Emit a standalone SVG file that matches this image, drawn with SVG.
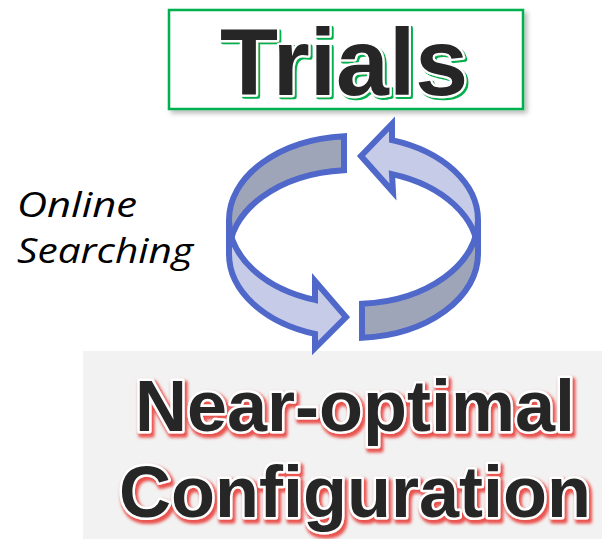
<svg xmlns="http://www.w3.org/2000/svg" width="602" height="539" viewBox="0 0 602 539">
  <defs>
    <filter id="boxShadow" x="-10%" y="-20%" width="125%" height="150%">
      <feDropShadow dx="3" dy="3" stdDeviation="2.5" flood-color="#000" flood-opacity="0.28"/>
    </filter>
    <!-- hard green offset copy behind the outlined title -->
    <filter id="greenEcho" x="-5%" y="-10%" width="115%" height="130%">
      <feOffset in="SourceAlpha" dx="2.3" dy="2.3" result="off"/>
      <feFlood flood-color="#00b050"/>
      <feComposite in2="off" operator="in" result="echo"/>
      <feMerge>
        <feMergeNode in="echo"/>
        <feMergeNode in="SourceGraphic"/>
      </feMerge>
    </filter>
    <!-- soft red shadow behind the outlined result text -->
    <filter id="redEcho" x="-5%" y="-15%" width="115%" height="140%">
      <feMorphology in="SourceAlpha" operator="dilate" radius="1" result="fat"/>
      <feOffset in="fat" dx="2" dy="3" result="off"/>
      <feGaussianBlur in="off" stdDeviation="1.8" result="blur"/>
      <feFlood flood-color="#e8413c" flood-opacity="0.9"/>
      <feComposite in2="blur" operator="in" result="echo"/>
      <feMerge>
        <feMergeNode in="echo"/>
        <feMergeNode in="SourceGraphic"/>
      </feMerge>
    </filter>
    <style>
      .ring { stroke: #4f68c9; stroke-width: 6; stroke-linejoin: miter; }
      .light { fill: #c6cbe7; }
      .dark { fill: #9ea5b8; }
      .bold { font-family: "Liberation Sans", Arial, sans-serif; font-weight: bold; text-anchor: middle; }
      .face { fill: #262626; stroke: #ffffff; paint-order: stroke; stroke-linejoin: round; }
      .label { font-family: "Open Sans", "Noto Sans", sans-serif; font-style: italic; font-size: 35px; fill: #000; }
    </style>
  </defs>

  <rect width="602" height="539" fill="#ffffff"/>

  <!-- result panel -->
  <g id="node-configuration">
    <rect x="83" y="351" width="519" height="188" fill="#f2f2f2"/>
    <g class="bold face" font-size="72" stroke-width="5" filter="url(#redEcho)">
      <text x="355" y="431">Near-optimal</text>
      <text x="355" y="517">Configuration</text>
    </g>
  </g>

  <!-- trials box -->
  <g id="node-trials">
    <rect x="169" y="10" width="354" height="99" fill="#ffffff" stroke="#00b050" stroke-width="2.5" filter="url(#boxShadow)"/>
    <text class="bold face" x="344" y="95" font-size="95" stroke-width="4.5" filter="url(#greenEcho)">Trials</text>
  </g>

  <!-- side label -->
  <g id="label-online-searching">
    <text class="label" x="17" y="217" textLength="120" lengthAdjust="spacingAndGlyphs">Online</text>
    <text class="label" x="17" y="263" textLength="176" lengthAdjust="spacingAndGlyphs">Searching</text>
  </g>

  <!-- circular loop between the two nodes -->
  <g id="connectors">
    <!-- back wall: tail of the left arrow -->
    <path class="ring dark" d="M344,136.25 A124.5 84 0 0 0 229,220 L229,254 A124.5 84 0 0 1 344,170.25 Z"/>
    <!-- back wall: head of the right arrow -->
    <path class="ring light" d="M392,140.12 A124.5 84 0 0 1 478,220 L478,254 A124.5 84 0 0 0 392,174.12 L393,192 L361,156 L392,124 Z"/>
    <!-- front wall: head of the left arrow -->
    <path class="ring light" d="M229,220 A124.5 84 0 0 0 315,299.9 L315,281 L346,317 L315,348 L315,333.9 A124.5 84 0 0 1 229,254 Z"/>
    <!-- front wall: tail of the right arrow -->
    <path class="ring dark" d="M362,303.8 A124.5 84 0 0 0 478,220 L478,254 A124.5 84 0 0 1 362,337.8 Z"/>
  </g>
</svg>
